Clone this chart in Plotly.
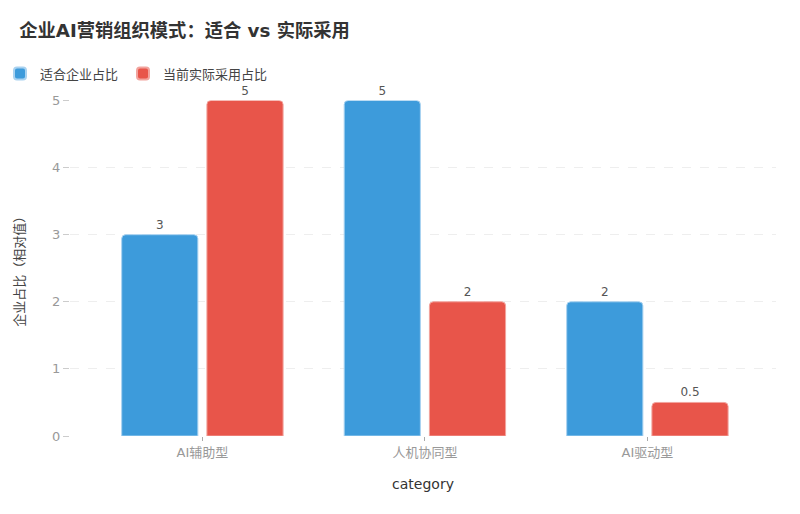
import plotly.graph_objects as go

categories = ["AI辅助型", "人机协同型", "AI驱动型"]
suitable = [3, 5, 2]
actual = [5, 2, 0.5]
series_names = ["适合企业占比", "当前实际采用占比"]
y_ticks = [0, 1, 2, 3, 4, 5]

FONT = "DejaVu Sans, Noto Sans CJK SC, sans-serif"

fig = go.Figure()
fig.add_trace(go.Bar(
    x=categories, y=suitable, name=series_names[0],
    marker=dict(color="#3d9bdb", line=dict(color="#a9d2f0", width=1)),
    text=[str(v) for v in suitable], textposition="outside",
    textfont=dict(size=12, color="#555555"), cliponaxis=False,
))
fig.add_trace(go.Bar(
    x=categories, y=actual, name=series_names[1],
    marker=dict(color="#e8554a", line=dict(color="#f2a49e", width=1)),
    text=[str(v) for v in actual], textposition="outside",
    textfont=dict(size=12, color="#555555"), cliponaxis=False,
))

fig.update_layout(
    width=800, height=514,
    margin=dict(l=70, r=24, t=97, b=78),
    paper_bgcolor="white", plot_bgcolor="white",
    font=dict(family=FONT, color="#333333"),
    title=dict(text="<b>企业AI营销组织模式：适合 vs 实际采用</b>", x=0.024, xanchor="left",
               y=0.94, yanchor="middle", font=dict(size=18.3, color="#333333")),
    legend=dict(orientation="h", xref="container", yref="container",
                x=0.0, xanchor="left", y=0.857, yanchor="middle",
                bgcolor="rgba(0,0,0,0)",
                font=dict(size=13, color="#444444"), itemwidth=30, itemsizing="constant"),
    barmode="group", bargap=0.234, bargroupgap=0.106,
    barcornerradius=4,
    showlegend=True,
)
fig.update_xaxes(
    title=dict(text="category", font=dict(size=14, color="#333333"), standoff=20),
    range=[-0.595, 2.578], showgrid=False, showline=False, zeroline=False,
    ticks="outside", ticklen=4, tickcolor="#aaaaaa",
    tickfont=dict(size=13, color="#999999"),
)
fig.update_yaxes(
    title=dict(text="企业占比（相对值）", font=dict(size=13, color="#444444"), standoff=24),
    automargin=False,
    range=[0, 5], tickvals=y_ticks,
    showgrid=True, gridcolor="#eeeeee", griddash="dash", gridwidth=1,
    zeroline=False, showline=False,
    ticks="outside", ticklen=6, tickcolor="#cccccc",
    tickfont=dict(size=13, color="#999999"),
)

fig.write_html("out.html")
